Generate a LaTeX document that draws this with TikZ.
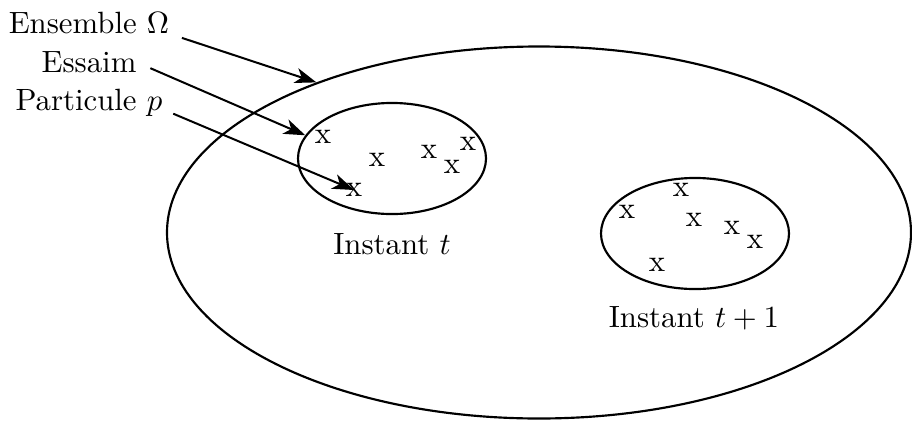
\documentclass[tikz,border=0pt]{standalone}
\usetikzlibrary{arrows.meta,shapes.geometric}
\tikzset{
  swarm/.style={draw, ellipse, line width=0.7pt, inner sep=0pt, minimum width=61.1pt, minimum height=36.1pt},
  ptcl/.style={inner sep=0pt},
  lbl/.style={anchor=base},
  pointer/.style={line width=0.65pt, -{Stealth[length=7pt,width=5pt,inset=2pt]}}
}

\begin{document}
\begin{tikzpicture}[x=0.325pt, y=-0.325pt]
   \useasboundingbox (0,0) rectangle (912,420);
   % search space and the two swarms
   \node[swarm, minimum width=241.8pt, minimum height=120.9pt] (omega) at (539,232.5) {};
   \node[swarm] (sw1) at (392,158.5) {};
   \node[swarm] (sw2) at (695,233.5) {};
   % particles at t
   \foreach \a/\b [count=\i] in {323/137, 377/160, 429/152, 468/144, 452/167, 354/190}
      \node[ptcl] (p\i) at (\a,\b) {x};
   % particles at t+1
   \foreach \a/\b [count=\i] in {681/190, 627/212, 694/220, 732/228, 755/242, 657/265}
      \node[ptcl] (q\i) at (\a,\b) {x};
   \node[lbl] (t0) at (392,254) {Instant $t$};
   \node[lbl] (t1) at (694,327) {Instant $t+1$};
   % legend
   \node[lbl] (ens) at (89,33)  {Ensemble $\Omega$};
   \node[lbl] (ess) at (89,72)  {Essaim};
   \node[lbl] (par) at (89,110) {Particule $p$};
   \draw[pointer] ([xshift=0.6pt, yshift=-5pt]ens.east) -- (omega.146);
   \draw[pointer] ([xshift=1pt, yshift=-2.1pt]ess.east) -- (sw1.165);
   \draw[pointer] ([yshift=-3.7pt]par.east) -- (p6.center);
\end{tikzpicture}
\end{document}
